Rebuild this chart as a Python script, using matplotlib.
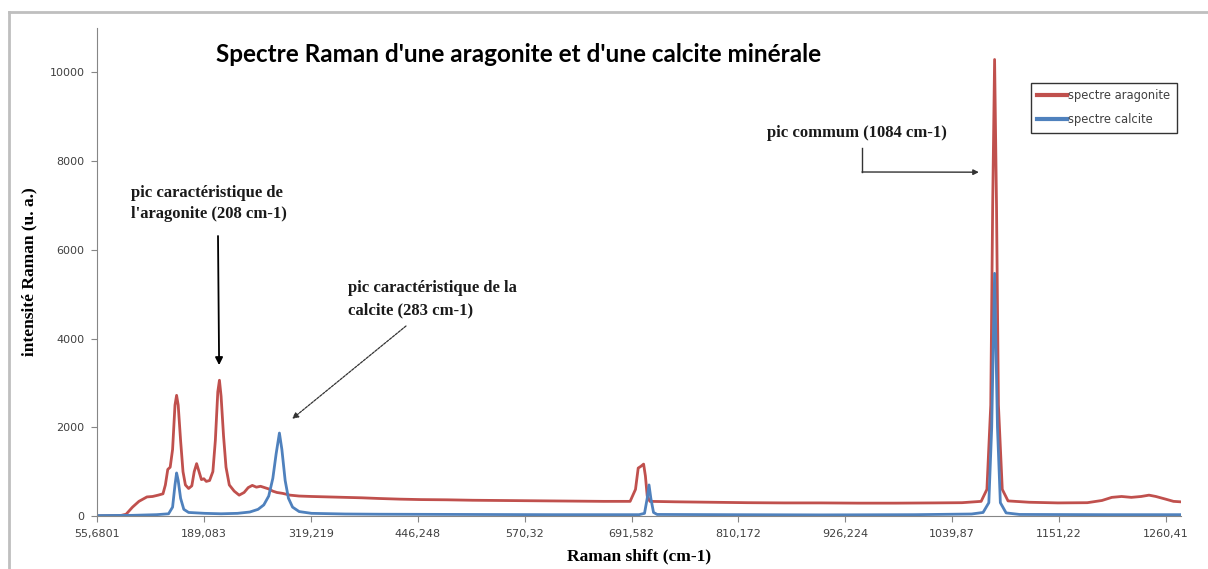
import numpy as np
import matplotlib
matplotlib.use("Agg")
import matplotlib.pyplot as plt
from matplotlib.lines import Line2D

# category-axis labels (Raman shift of every N-th point, as in the Excel sheet)
tick_vals = [55.6801, 189.083, 319.219, 446.248, 570.32, 691.582,
             810.172, 926.224, 1039.87, 1151.22, 1260.41]
tick_labels = ["55,6801", "189,083", "319,219", "446,248", "570,32", "691,582",
               "810,172", "926,224", "1039,87", "1151,22", "1260,41"]

# spectre aragonite (shift cm-1, intensité)
arag_x = [55.7, 70, 85, 92, 100, 108, 118, 125, 132, 138, 141, 144, 147, 150, 153,
          155, 157, 160, 163, 166, 170, 174, 177, 180, 183, 186, 189, 192, 196, 200,
          203, 206, 208, 210, 213, 216, 220, 226, 232, 238, 243, 248, 253, 258, 263,
          268, 273, 278, 285, 294, 305, 320, 340, 360, 380, 400, 425, 450, 480, 510,
          540, 570, 600, 630, 660, 690, 696, 699, 702, 705, 707, 709, 712, 740, 780,
          820, 860, 900, 940, 980, 1020, 1050, 1070, 1076, 1080, 1082, 1084, 1086,
          1088, 1092, 1098, 1120, 1150, 1180, 1195, 1205, 1215, 1225, 1235, 1243,
          1250, 1260, 1268, 1275]
arag_y = [0, 5, 10, 40, 200, 330, 430, 440, 470, 500, 700, 1050, 1100, 1500, 2500,
          2720, 2500, 1700, 1000, 700, 620, 680, 1000, 1180, 1000, 820, 840, 780, 800, 1000,
          1700, 2800, 3060, 2700, 1800, 1100, 700, 560, 470, 530, 640, 690, 650, 670, 640,
          610, 560, 530, 510, 470, 450, 440, 430, 420, 410, 395, 380, 370, 365, 355,
          350, 345, 340, 335, 330, 330, 600, 1080, 1120, 1170, 900, 450, 330, 320, 310,
          300, 295, 295, 290, 290, 295, 300, 330, 600, 2500, 7000, 10290, 7000,
          2500, 600, 340, 310, 295, 300, 350, 420, 440, 420, 440, 470,
          440, 380, 330, 320]

# spectre calcite
calc_x = [55.7, 100, 130, 145, 150, 153, 155, 157, 160, 164, 170, 190, 210, 230, 245,
          255, 262, 268, 273, 277, 281, 284, 288, 292, 297, 305, 320, 360, 400, 500,
          600, 700, 706, 709, 711, 713, 716, 720, 800, 900, 1000, 1060, 1072, 1078,
          1081, 1084, 1087, 1090, 1096, 1110, 1200, 1275]
calc_y = [10, 15, 30, 50, 200, 700, 970, 800, 400, 150, 80, 60, 50, 60, 90,
          150, 250, 450, 850, 1400, 1870, 1500, 800, 400, 200, 100, 60, 45, 40, 35,
          30, 30, 60, 400, 700, 400, 80, 35, 30, 25, 30, 45, 80, 300,
          2000, 5470, 2000, 300, 70, 35, 30, 30]

W, H = 1208, 569
idx = np.arange(len(tick_vals), dtype=float)
tv = np.array(tick_vals)


def fwd(x):
    x = np.asarray(x, dtype=float)
    y = np.interp(x, tv, idx)
    y = np.where(x > tv[-1], idx[-1] + (x - tv[-1]) / (tv[-1] - tv[-2]), y)
    y = np.where(x < tv[0], (x - tv[0]) / (tv[1] - tv[0]), y)
    return y


def inv(u):
    u = np.asarray(u, dtype=float)
    x = np.interp(u, idx, tv)
    x = np.where(u > idx[-1], tv[-1] + (u - idx[-1]) * (tv[-1] - tv[-2]), x)
    x = np.where(u < 0, tv[0] + u * (tv[1] - tv[0]), x)
    return x


def fp(px, py):
    # pixel position -> figure fraction
    return px / W, 1 - py / H


fig = plt.figure(figsize=(W / 100, H / 100), dpi=100)
ax = fig.add_axes([97 / W, (H - 516) / H, (1181 - 97) / W, (516 - 28) / H])

red = '#C0504D'
blue = '#4F81BD'
ax.plot(arag_x, arag_y, color=red, lw=2.0, label='spectre aragonite')
ax.plot(calc_x, calc_y, color=blue, lw=2.0, label='spectre calcite')

ax.set_xscale('function', functions=(fwd, inv))
ax.set_xlim(55.6801, 1275.7)
ax.set_ylim(0, 11000)
ax.set_xticks(tick_vals)
ax.set_xticklabels(tick_labels)
ax.set_yticks(range(0, 10001, 2000))
ax.minorticks_off()

for s in ['top', 'right']:
    ax.spines[s].set_visible(False)
for s in ['left', 'bottom']:
    ax.spines[s].set_color('#868686')
ax.tick_params(axis='both', direction='out', length=4, color='#868686',
               labelsize=8, labelcolor='#404040', pad=5)

ax.set_xlabel('Raman shift (cm-1)', family='Liberation Serif', fontweight='bold',
              fontsize=12.5, labelpad=7)
ax.set_ylabel('intensité Raman (u. a.)', family='Liberation Serif', fontweight='bold',
              fontsize=12.5, labelpad=9)

fig.text(*fp(519, 55), "Spectre Raman d'une aragonite et d'une calcite minérale",
         family='Lato', fontweight='bold', fontsize=17.5, ha='center', va='center')

leg = ax.legend(loc='upper left', bbox_to_anchor=((1031 - 97) / 1084, (516 - 83) / 488),
                fontsize=8.3, frameon=True, fancybox=False, edgecolor='black',
                handlelength=2.6, handletextpad=0.1, borderpad=0.55, labelspacing=0.95,
                borderaxespad=0)
leg.get_frame().set_linewidth(1.0)
for t in leg.get_texts():
    t.set_color('#404040')
for l in leg.get_lines():
    l.set_linewidth(3)

serif = dict(family='Liberation Serif', fontweight='bold', fontsize=12, va='center',
             ha='left', color='#1a1a1a')
fig.text(*fp(131, 193), "pic caractéristique de", **serif)
fig.text(*fp(131, 214), "l'aragonite (208 cm-1)", **serif)
fig.text(*fp(348, 288), "pic caractéristique de la", **serif)
fig.text(*fp(348, 310), "calcite (283 cm-1)", **serif)
fig.text(*fp(767, 133), "pic commum (1084 cm-1)", **serif)

# arrows
ax.annotate('', xy=(207.6, 3400), xycoords='data', xytext=fp(218, 236),
            textcoords='figure fraction',
            arrowprops=dict(arrowstyle='-|>', color='black', lw=1.3,
                            mutation_scale=11, shrinkA=0, shrinkB=0))
ax.annotate('', xy=(296.5, 2190), xycoords='data', xytext=fp(406, 326),
            textcoords='figure fraction',
            arrowprops=dict(arrowstyle='-|>', color='#333333', lw=0.9, ls=(0, (2, 1)),
                            mutation_scale=9, shrinkA=0, shrinkB=0))
fig.add_artist(Line2D([862 / W, 862 / W], [1 - 148 / H, 1 - 172 / H],
                      transform=fig.transFigure, color='#333333', lw=1.0))
ax.annotate('', xy=(1067.6, 7750), xycoords='data', xytext=fp(862, 172),
            textcoords='figure fraction',
            arrowprops=dict(arrowstyle='-|>', color='#333333', lw=1.0,
                            mutation_scale=8, shrinkA=0, shrinkB=0))

# outer chart frame
fig.add_artist(Line2D([9 / W, 1], [1 - 12 / H, 1 - 12 / H], transform=fig.transFigure,
                      color='#BFBFBF', lw=2))
fig.add_artist(Line2D([9 / W, 9 / W], [0, 1 - 12 / H], transform=fig.transFigure,
                      color='#BFBFBF', lw=2))

fig.savefig('out.png', dpi=100)
